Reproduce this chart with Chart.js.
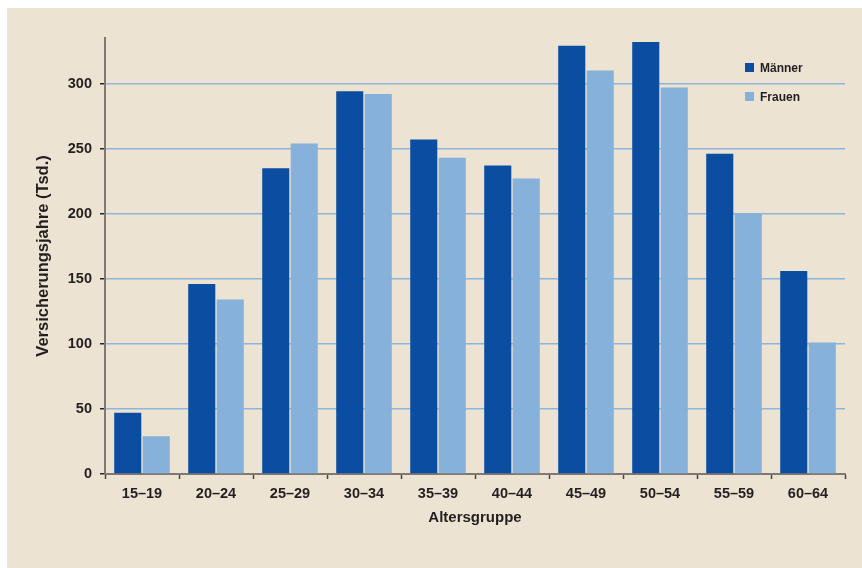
<!DOCTYPE html>
<html>
<head>
<meta charset="utf-8">
<script src="https://cdn.jsdelivr.net/npm/chart.js@4"></script>
<style>
    body { margin: 0; background: #ffffff; }
    #rahmen {
        position: absolute; left: 7px; top: 8px; width: 855px; height: 560px;
        background: #ece3d3;
    }
    #legende {
        position: absolute; left: 738px; top: 45px;
        font-family: "Liberation Sans", Arial, sans-serif; font-weight: bold;
        font-size: 12px; color: #231f20;
    }
    .eintrag { height: 29px; display: flex; align-items: center; }
    .kasten { width: 9px; height: 9px; margin-right: 6px; }
</style>
</head>
<body>
<div id="rahmen">
    <canvas id="grafik" width="855" height="560"></canvas>
    <div id="legende"></div>
</div>
<script>
// Daten: Versicherungsjahre in Tsd. nach Altersgruppe
const altersgruppen = ["15–19", "20–24", "25–29", "30–34", "35–39", "40–44", "45–49", "50–54", "55–59", "60–64"];
const maenner = [47, 146, 235, 294, 257, 237, 329, 332, 246, 156];
const frauen = [29, 134, 254, 292, 243, 227, 310, 297, 200, 101];
const serien = ["Männer", "Frauen"];
const farben = ["#0b4da1", "#85b1db"];

const schrift = "'Liberation Sans', Arial, sans-serif";

// Legende oben rechts im Diagramm
const legende = document.getElementById("legende");
serien.forEach((name, i) => {
    const div = document.createElement("div");
    div.className = "eintrag";
    div.innerHTML = `<span class="kasten" style="background:${farben[i]}"></span>${name}`;
    legende.appendChild(div);
});

const ctx = document.getElementById("grafik").getContext("2d");

new Chart(ctx, {
    type: "bar",
    data: {
        labels: altersgruppen,
        datasets: [
            { label: serien[0], data: maenner, backgroundColor: farben[0] },
            { label: serien[1], data: frauen, backgroundColor: farben[1] }
        ]
    },
    options: {
        responsive: false,
        animation: false,
        events: [],
        layout: { padding: { top: 30, right: 17, left: 0, bottom: 0 } },
        datasets: {
            bar: { categoryPercentage: 0.77, barPercentage: 0.95 }
        },
        plugins: {
            legend: { display: false },
            tooltip: { enabled: false }
        },
        scales: {
            x: {
                grid: { offset: true, drawOnChartArea: false, tickLength: 5, tickColor: "#4a4542", tickWidth: 1.5 },
                border: { color: "#7f7873", width: 2 },
                ticks: { color: "#231f20", padding: 6, font: { family: schrift, size: 14.5, weight: "bold" } },
                title: {
                    display: true, text: "Altersgruppe", color: "#231f20",
                    padding: { top: 0, bottom: 41 },
                    font: { family: schrift, size: 15, weight: "bold" }
                },
                afterFit: (s) => { s.height = 94; }
            },
            y: {
                min: 0,
                max: 335,
                afterBuildTicks: (s) => { s.ticks = s.ticks.filter(t => t.value % 50 === 0); },
                grid: { color: "#8db5de", lineWidth: 1.5, tickLength: 5, tickColor: "#2a2624", tickWidth: 1.5 },
                border: { color: "#7f7873", width: 2 },
                ticks: { stepSize: 50, color: "#231f20", padding: 8, font: { family: schrift, size: 14.5, weight: "bold" } },
                title: {
                    display: true, text: "Versicherungsjahre (Tsd.)", color: "#231f20",
                    padding: { top: 27, bottom: 0 },
                    font: { family: schrift, size: 16.5, weight: "bold" }
                },
                afterFit: (s) => { s.width = 98; }
            }
        }
    }
});
</script>
</body>
</html>
